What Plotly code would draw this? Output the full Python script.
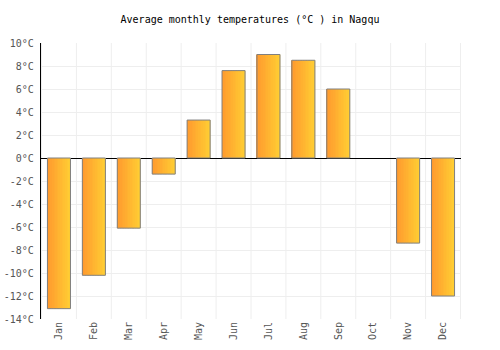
import plotly.graph_objects as go

months = ["Jan", "Feb", "Mar", "Apr", "May", "Jun", "Jul", "Aug", "Sep", "Oct", "Nov", "Dec"]
temps = [-13.1, -10.2, -6.1, -1.4, 3.3, 7.6, 9.0, 8.5, 6.0, None, -7.4, -12.0]
y_ticks = list(range(-14, 11, 2))
y_labels = [f"{v}°C" for v in y_ticks]

FONT = "DejaVu Sans Mono"
bar_w = 0.66
n_slices = 14
c0 = (255, 154, 46)
c1 = (255, 204, 51)

fig = go.Figure()
for i in range(n_slices):
    t = i / (n_slices - 1)
    col = tuple(round(a + (b - a) * t) for a, b in zip(c0, c1))
    sw = bar_w / n_slices
    fig.add_trace(go.Bar(
        x=months, y=temps,
        width=sw * 1.15,
        offset=-bar_w / 2 + i * sw,
        marker=dict(color=f"rgb{col}", line=dict(width=0)),
        hoverinfo="skip", showlegend=False,
    ))
fig.add_trace(go.Bar(
    x=months, y=temps, width=bar_w, offset=-bar_w / 2,
    marker=dict(color="rgba(0,0,0,0)", line=dict(color="#808080", width=1)),
    showlegend=False,
))

fig.update_layout(
    width=500, height=350,
    margin=dict(l=41, r=39, t=43, b=31),
    barmode="overlay",
    plot_bgcolor="white", paper_bgcolor="white",
    title=dict(text="Average monthly temperatures (°C ) in Nagqu",
               x=0.5, xanchor="center", y=0.945, yanchor="middle",
               font=dict(family=FONT, size=10, color="black")),
    font=dict(family=FONT, size=10, color="#555"),
)
fig.update_xaxes(
    type="category", categoryorder="array", categoryarray=months,
    tickangle=-90, showgrid=False, ticks="", automargin=False,
    tickfont=dict(family=FONT, size=10, color="#555"),
    showline=False,
)
for k in range(len(months) + 1):
    fig.add_shape(type="line", xref="x", yref="paper",
                  x0=k - 0.5, x1=k - 0.5, y0=0, y1=1,
                  line=dict(color="#eeeeee", width=1), layer="below")
fig.update_yaxes(
    range=[-14, 10], tickvals=y_ticks, ticktext=y_labels,
    gridcolor="#eeeeee", gridwidth=1, automargin=False,
    zeroline=True, zerolinecolor="black", zerolinewidth=1.2,
    showline=True, linecolor="black", linewidth=1.2,
    tickfont=dict(family=FONT, size=10, color="#555"),
    ticks="", ticklabelstandoff=4,
)
fig.write_html("out.html")
